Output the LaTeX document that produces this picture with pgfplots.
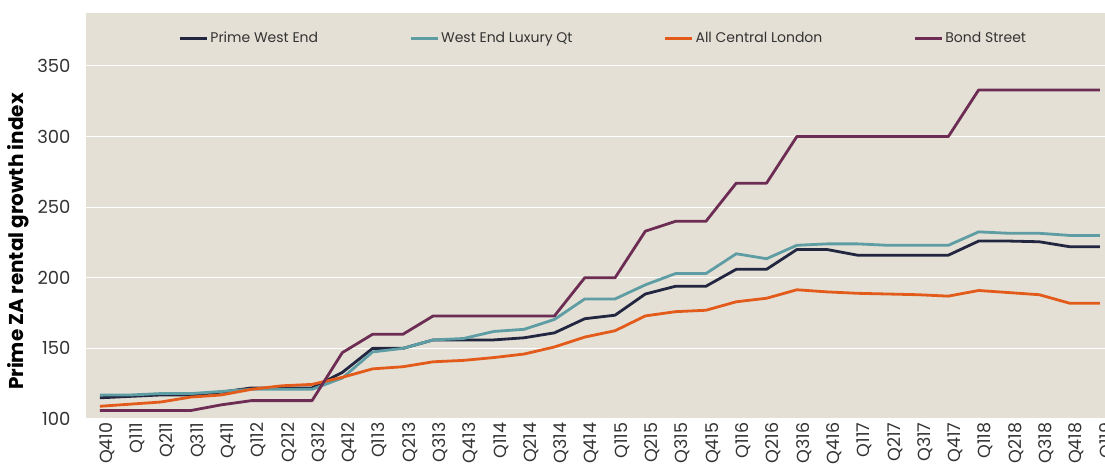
\documentclass[border=0pt]{standalone}
\usepackage{pgfplots}
\usepackage{pgfplotstable}
\pgfplotsset{compat=1.18}
\usepackage{fontspec}
\setmainfont{Poppins}
\definecolor{bg}{HTML}{E4E0D5}
\definecolor{cnavy}{HTML}{222640}
\definecolor{cteal}{HTML}{5F9DA4}
\definecolor{corange}{HTML}{E35B1A}
\definecolor{cpurple}{HTML}{6C2C54}
\definecolor{txt}{HTML}{333333}
\pgfplotstableread{
x pwe wel acl bond
0 115 117 109 106
1 116 117 110.5 106
2 117 118 112 106
3 117 118 115.5 106
4 119 119.5 117 110
5 122 121 121 113
6 122 121 123.5 113
7 122 121 124.5 113
8 133 129 129.5 147
9 150 147.5 135.5 160
10 150 150 137 160
11 156 156 140.5 173
12 156 157 141.5 173
13 156 162 143.5 173
14 157.5 163.5 146 173
15 161 170.5 151 173
16 171 185 158 200
17 173.5 185 162.5 200
18 188.5 195 173 233
19 194 203 176 240
20 194 203 177 240
21 206 217 183 267
22 206 213.5 185.5 267
23 220 223 191.5 300
24 220 224 190 300
25 216 224 189 300
26 216 223 188.5 300
27 216 223 188 300
28 216 223 187 300
29 226 232.5 191 333
30 226 231.5 189.5 333
31 225.5 231.5 188 333
32 222 230 182 333
33 222 230 182 333
}\datatab
\begin{document}
\begin{tikzpicture}
\begin{axis}[
  scale only axis, width=1019pt, height=406pt,
  xmin=-0.46, xmax=33.17, ymin=100, ymax=387.5,
  axis background/.style={fill=bg},
  axis line style={draw=none},
  major tick length=0pt,
  ytick={100,150,...,350},
  ymajorgrids, grid style={white, line width=1pt},
  xtick={0,...,33},
  xticklabels={Q410,Q111,Q211,Q311,Q411,Q112,Q212,Q312,Q412,Q113,Q213,Q313,Q413,Q114,Q214,Q314,Q414,Q115,Q215,Q315,Q415,Q116,Q216,Q316,Q416,Q117,Q217,Q317,Q417,Q118,Q218,Q318,Q418,Q119},
  xticklabel style={rotate=90, anchor=east, yshift=-7pt, font=\fontsize{17.5}{17.5}\selectfont, text=txt},
  yticklabel style={anchor=east, xshift=-12pt, font=\fontsize{18}{18}\selectfont, text=txt},
  /pgf/number format/assume math mode=true,
  ylabel={\bfseries Prime ZA rental growth index},
  ylabel style={at={(axis description cs:-0.0667,0.437)}, rotate=0, anchor=center, font=\fontsize{20}{20}\selectfont, text=black},
  legend style={at={(rel axis cs:0.0905,0.938)}, anchor=west, draw=none, fill=none, legend columns=4,
    font=\fontsize{14}{14}\selectfont, text=txt, inner sep=0pt,
    /tikz/every even column/.append style={column sep=89pt},
    nodes={inner sep=2pt}},
  legend image code/.code={\draw[#1, line width=3pt] (0pt,0pt) -- (27pt,0pt);},
  every axis plot/.append style={line width=2.8pt, line join=round},
]
\addplot[cnavy] table[x=x,y=pwe] {\datatab};
\addlegendentry{Prime West End}
\addplot[cteal] table[x=x,y=wel] {\datatab};
\addlegendentry{West End Luxury Qt}
\addplot[corange] table[x=x,y=acl] {\datatab};
\addlegendentry{All Central London}
\addplot[cpurple] table[x=x,y=bond] {\datatab};
\addlegendentry{Bond Street}
\coordinate (A) at (rel axis cs:0,0);
\coordinate (B) at (rel axis cs:1,1);
\end{axis}
\pgfresetboundingbox
\path ([shift={(-86pt,-56pt)}]A) rectangle ([shift={(0pt,13pt)}]B);
\end{tikzpicture}
\end{document}
